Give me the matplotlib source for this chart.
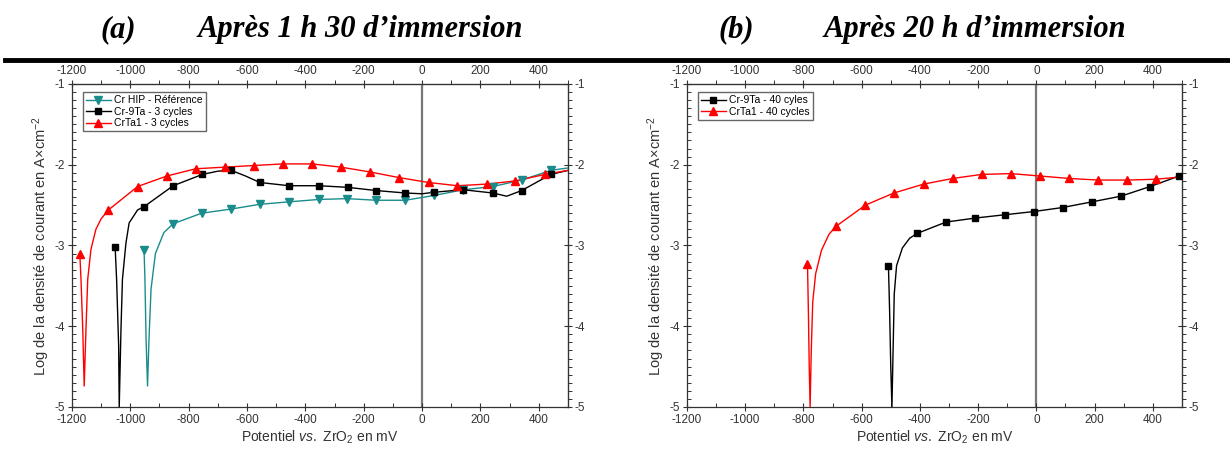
import matplotlib.pyplot as plt
from matplotlib.lines import Line2D
from matplotlib.ticker import MultipleLocator

plt.rcParams['font.family'] = ['Liberation Sans', 'DejaVu Sans']
plt.rcParams['mathtext.fontset'] = 'custom'
plt.rcParams['mathtext.rm'] = 'Liberation Sans'
plt.rcParams['mathtext.it'] = 'Liberation Sans:italic'
plt.rcParams['axes.unicode_minus'] = False

# ---- (a) apres 1 h 30 ----
# Cr HIP - reference (markers + traced line)
hip_mx = [-953, -853, -755, -656, -556, -457, -354, -257, -157, -58, 42, 141, 242, 341, 441]
hip_my = [-3.05, -2.73, -2.60, -2.55, -2.49, -2.46, -2.43, -2.42, -2.44, -2.44, -2.38, -2.31, -2.27, -2.19, -2.07]
hip_lx = [-953, -950, -946, -941, -936, -929, -914, -885, -853, -755, -656, -556, -457, -354,
          -257, -157, -58, 42, 141, 242, 341, 441, 500]
hip_ly = [-3.05, -3.40, -4.16, -4.74, -4.16, -3.54, -3.10, -2.84, -2.73, -2.60, -2.55, -2.49, -2.46, -2.43,
          -2.42, -2.44, -2.44, -2.38, -2.31, -2.27, -2.19, -2.07, -2.04]

# Cr-9Ta - 3 cycles
ta9_mx = [-1052, -953, -853, -753, -654, -556, -456, -354, -255, -157, -58, 42, 141, 242, 341, 441]
ta9_my = [-3.02, -2.52, -2.26, -2.12, -2.07, -2.22, -2.26, -2.26, -2.28, -2.32, -2.35, -2.34, -2.31, -2.35, -2.32, -2.12]
ta9_lx = [-1052, -1047, -1040, -1038, -1032, -1027, -1015, -1004, -975, -953, -853, -753, -700, -654,
          -605, -556, -456, -354, -255, -157, -58, 0, 42, 141, 242, 290, 341, 441, 500]
ta9_ly = [-3.02, -3.42, -4.24, -5.00, -4.04, -3.42, -2.97, -2.72, -2.56, -2.52, -2.26, -2.12, -2.08, -2.07,
          -2.14, -2.22, -2.26, -2.26, -2.28, -2.32, -2.35, -2.36, -2.34, -2.31, -2.35, -2.39, -2.32, -2.12, -2.07]

# CrTa1 - 3 cycles
cta_mx = [-1173, -1075, -975, -875, -776, -676, -577, -477, -377, -278, -178, -78, 22, 121, 221, 320, 421]
cta_my = [-3.11, -2.56, -2.27, -2.14, -2.05, -2.03, -2.01, -1.99, -1.99, -2.03, -2.09, -2.16, -2.22, -2.26,
          -2.24, -2.20, -2.12]
cta_lx = [-1173, -1169, -1163, -1158, -1152, -1146, -1135, -1118, -1100, -1075, -975, -875, -776, -676,
          -577, -477, -377, -278, -178, -78, 22, 121, 221, 320, 421, 500]
cta_ly = [-3.11, -3.42, -4.04, -4.74, -4.04, -3.42, -3.05, -2.80, -2.67, -2.56, -2.27, -2.14, -2.05, -2.03,
          -2.01, -1.99, -1.99, -2.03, -2.09, -2.16, -2.22, -2.26, -2.24, -2.20, -2.12, -2.07]

# ---- (b) apres 20 h ----
# Cr-9Ta - 40 cycles
b9_mx = [-508, -409, -310, -209, -109, -9, 90, 191, 290, 391, 490]
b9_my = [-3.25, -2.85, -2.71, -2.66, -2.62, -2.58, -2.53, -2.46, -2.39, -2.27, -2.14]
b9_lx = [-508, -504, -500, -496, -492, -488, -480, -460, -435, -409, -310, -209, -109, -9, 90, 191, 290,
         391, 490, 500]
b9_ly = [-3.25, -3.80, -4.50, -5.00, -4.30, -3.60, -3.25, -3.03, -2.91, -2.85, -2.71, -2.66, -2.62, -2.58,
         -2.53, -2.46, -2.39, -2.27, -2.14, -2.13]

# CrTa1 - 40 cycles
bt_mx = [-786, -687, -587, -489, -387, -287, -188, -87, 13, 113, 213, 311, 410]
bt_my = [-3.23, -2.76, -2.50, -2.35, -2.24, -2.17, -2.12, -2.11, -2.14, -2.17, -2.19, -2.19, -2.18]
bt_lx = [-786, -783, -780, -777, -773, -768, -758, -738, -712, -687, -587, -489, -387, -287, -188, -87,
         13, 113, 213, 311, 410, 500]
bt_ly = [-3.23, -3.80, -4.50, -5.00, -4.30, -3.70, -3.35, -3.06, -2.86, -2.76, -2.50, -2.35, -2.24, -2.17,
         -2.12, -2.11, -2.14, -2.17, -2.19, -2.19, -2.18, -2.15]

TEAL = '#1a8c8c'
RED = '#ff0000'
TICK_COL = '#333333'


def style_axis(ax):
    ax.set_xlim(-1200, 500)
    ax.set_ylim(-5, -1)
    ax.axvline(0, color='#777777', lw=1.6, zorder=1)
    for s in ax.spines.values():
        s.set_color(TICK_COL)
        s.set_linewidth(0.9)
    ax.xaxis.set_major_locator(MultipleLocator(200))
    ax.xaxis.set_minor_locator(MultipleLocator(100))
    ax.yaxis.set_major_locator(MultipleLocator(1))
    ax.yaxis.set_minor_locator(MultipleLocator(0.1))
    ax.tick_params(which='major', direction='inout', length=6, width=0.8, labelsize=8.5,
                   color=TICK_COL, labelcolor=TICK_COL, pad=2)
    ax.tick_params(which='minor', direction='in', length=3, width=0.7, color=TICK_COL)
    top = ax.secondary_xaxis('top')
    top.xaxis.set_major_locator(MultipleLocator(200))
    top.xaxis.set_minor_locator(MultipleLocator(100))
    top.tick_params(which='major', direction='inout', length=6, width=0.8, labelsize=8.5,
                    color=TICK_COL, labelcolor=TICK_COL, pad=2)
    top.tick_params(which='minor', direction='out', length=3, width=0.7, color=TICK_COL)
    right = ax.secondary_yaxis('right')
    right.yaxis.set_major_locator(MultipleLocator(1))
    right.yaxis.set_minor_locator(MultipleLocator(0.1))
    right.tick_params(which='major', direction='inout', length=6, width=0.8, labelsize=8.5,
                      color=TICK_COL, labelcolor=TICK_COL, pad=2)
    right.tick_params(which='minor', direction='out', length=3, width=0.7, color=TICK_COL)
    ax.set_xlabel(r'Potentiel $\it{vs.}$ ZrO$_2$ en mV', fontsize=10, color=TICK_COL, labelpad=2)
    ax.set_ylabel(r'Log de la densité de courant en A×cm$^{-2}$', fontsize=10.5, color=TICK_COL,
                  labelpad=2)


def draw(ax, lx, ly, mx, my, color, marker, ms):
    ax.plot(lx, ly, color=color, lw=1.0, zorder=3)
    ax.plot(mx, my, ls='none', marker=marker, color=color, ms=ms, zorder=4)
    return Line2D([], [], color=color, lw=1.0, marker=marker, ms=ms)


fig = plt.figure(figsize=(12.3, 4.5), dpi=100)
ax_a = fig.add_axes([0.0585, 0.0956, 0.4033, 0.7178])
ax_b = fig.add_axes([0.5585, 0.0956, 0.4024, 0.7178])

leg_kw = dict(loc='upper left', bbox_to_anchor=(0.022, 0.975), fontsize=7.5, fancybox=False,
              edgecolor='#666666', framealpha=1, handlelength=2.4, borderpad=0.3,
              labelspacing=0.15, handletextpad=0.3, borderaxespad=0)

style_axis(ax_a)
h1 = draw(ax_a, hip_lx, hip_ly, hip_mx, hip_my, TEAL, 'v', 5.5)
h2 = draw(ax_a, ta9_lx, ta9_ly, ta9_mx, ta9_my, 'black', 's', 4.5)
h3 = draw(ax_a, cta_lx, cta_ly, cta_mx, cta_my, RED, '^', 5.5)
ax_a.legend([h1, h2, h3], ['Cr HIP - Référence', 'Cr-9Ta - 3 cycles', 'CrTa1 - 3 cycles'], **leg_kw)

style_axis(ax_b)
g1 = draw(ax_b, b9_lx, b9_ly, b9_mx, b9_my, 'black', 's', 4.5)
g2 = draw(ax_b, bt_lx, bt_ly, bt_mx, bt_my, RED, '^', 5.5)
ax_b.legend([g1, g2], ['Cr-9Ta - 40 cyles', 'CrTa1 - 40 cycles'], **leg_kw)

title_kw = dict(fontsize=22, family='Liberation Serif', weight='bold', style='italic',
                ha='center', va='center')
ty = 1 - 30 / 450
fig.text(118 / 1230, ty, '(a)', **title_kw)
fig.text(360 / 1230, ty, 'Après 1 h 30 d’immersion', **title_kw)
fig.text(736 / 1230, ty, '(b)', **title_kw)
fig.text(975 / 1230, ty, 'Après 20 h d’immersion', **title_kw)

fig.add_artist(Line2D([5 / 1230, 1.0], [1 - 60 / 450, 1 - 60 / 450], lw=3.5, color='black'))

fig.savefig('out.png', dpi=100)
